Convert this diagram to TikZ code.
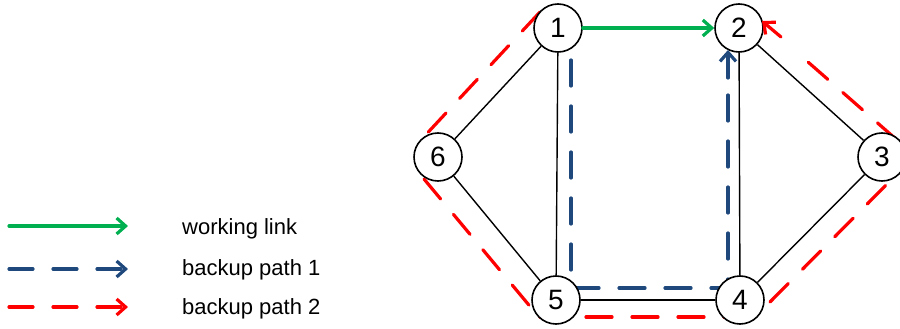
\documentclass[tikz,border=0pt]{standalone}
\usepackage{fontspec}
\setmainfont{Liberation Sans}
\usetikzlibrary{arrows.meta,backgrounds}
\definecolor{wgreen}{HTML}{00B050}
\definecolor{bblue}{HTML}{1F497D}
\definecolor{bred}{HTML}{FF0000}
\begin{document}
\begin{tikzpicture}[x=1pt,y=-1pt,
  vtx/.style={circle,draw,line width=1.6pt,fill=white,minimum size=48pt,inner sep=0pt,font=\fontsize{28}{28}\selectfont},
  edge/.style={line width=1.4pt},
  colline/.style={line width=3.2pt,line cap=round},
  tipped/.style={-{Straight Barb[length=9pt,width=16pt]}},
  dashd/.style={dash pattern=on 26pt off 20pt},
  ldash/.style={dash pattern=on 24pt off 20pt},
  lab/.style={anchor=base west,inner sep=0pt,font=\fontsize{22}{22}\selectfont}]
\useasboundingbox (0,0) rectangle (900,329);
\clip (0,0) rectangle (900,329);
% vertices
\node[vtx] (n1) at (558,28) {1};
\node[vtx] (n2) at (739,28) {2};
\node[vtx] (n3) at (882,157) {3};
\node[vtx] (n4) at (740,300) {4};
\node[vtx] (n5) at (556,300) {5};
\node[vtx] (n6) at (438,157) {6};
% working link
\draw[colline,wgreen,tipped] (n1) -- (n2);
\begin{scope}[on background layer]
  \draw[edge] (n1) -- (n6);
  \draw[edge] (n1) -- (n5);
  \draw[edge] (n6) -- (n5);
  \draw[edge] (n5) -- (n4);
  \draw[edge] (n4) -- (n2);
  \draw[edge] (n2) -- (n3);
  \draw[edge] (n3) -- (n4);
  % backup path 1
  \coordinate (b0) at (571,60);
  \coordinate (b1) at (571,288);
  \coordinate (b2) at (728,288);
  \coordinate (b3) at (728,92);
  \draw[colline,bblue,dashd] (b0) -- (b1) -- (b2) -- (b3);
  % backup path 2
  \coordinate (r1a) at (540,12);
  \coordinate (r1b) at (420,141);
  \coordinate (r2a) at (424,179);
  \coordinate (r2b) at (538,316);
  \coordinate (r3a) at (540,317);
  \coordinate (r3b) at (757,317);
  \coordinate (r4a) at (770,302);
  \coordinate (r4b) at (898,173);
  \coordinate (r5a) at (897,140);
  \coordinate (r5b) at (800,55);
  \draw[colline,bred,dashd] (r1a) -- (r1b);
  \draw[colline,bred,dashd] (r2a) -- (r2b);
  \draw[colline,bred,dashd] (r3a) -- (r3b);
  \draw[colline,bred,dashd] (r4a) -- (r4b);
  \draw[colline,bred,dashd] (r5a) -- (r5b);
\end{scope}
% arrow ends of the backup paths (above the vertices)
\coordinate (b4) at (728,78);
\coordinate (b5) at (728,50);
\draw[colline,bblue,tipped] (b4) -- (b5);
\coordinate (r6) at (781,37);
\coordinate (r7) at (762,21);
\draw[colline,bred,tipped] (r6) -- (r7);
% legend
\coordinate (la1) at (9,226);
\coordinate (lb1) at (128,226);
\coordinate (la2) at (9,269);
\coordinate (lb2) at (128,269);
\coordinate (la3) at (9,307);
\coordinate (lb3) at (128,307);
\draw[colline,wgreen,tipped] (la1) -- (lb1);
\draw[colline,bblue,ldash,tipped] (la2) -- (lb2);
\draw[colline,bred,ldash,tipped] (la3) -- (lb3);
\node[lab] (t1) at (182,234) {working link};
\node[lab] (t2) at (182,275) {backup path 1};
\node[lab] (t3) at (182,314) {backup path 2};
\end{tikzpicture}
\end{document}
